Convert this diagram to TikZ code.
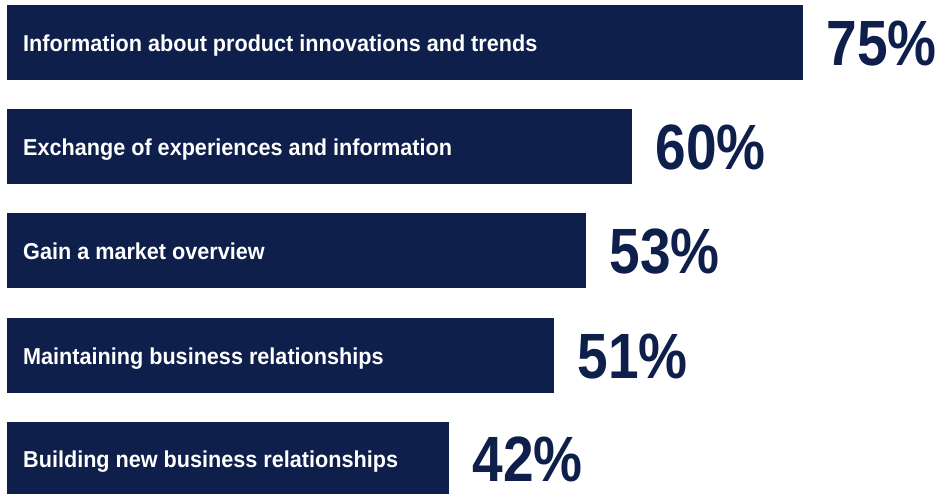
\documentclass[tikz,border=0pt]{standalone}
\usepackage{fontspec}
\setmainfont{Liberation Sans}[FakeStretch=0.94]
\newfontfamily\pctfont{Liberation Sans}[FakeStretch=0.86]
\definecolor{navy}{HTML}{0F1F4B}
\begin{document}
\begin{tikzpicture}[x=1pt,y=-1pt,
  bar/.style={fill=navy, draw=none, inner sep=0pt, anchor=north west},
  lbl/.style={text=white, font=\fontsize{23}{26}\selectfont\bfseries, inner sep=0pt, anchor=base west},
  pct/.style={text=navy, font=\pctfont\fontsize{64}{70}\selectfont\bfseries, inner sep=0pt, anchor=base west}]
\useasboundingbox (0,0) rectangle (939,494);
\foreach \i/\top/\w/\h/\txt/\p in {
  1/5/796/75/{Information about product innovations and trends}/75,
  2/109/625/75/{Exchange of experiences and information}/60,
  3/213/579/75/{Gain a market overview}/53,
  4/318/547/75/{Maintaining business relationships}/51,
  5/422/442/72/{Building new business relationships}/42}{
  \node[bar, minimum width=\w pt, minimum height=\h pt] (b\i) at (7,\top) {};
  \node[lbl] (t\i) at ([xshift=16pt,yshift=-9pt]b\i.west) {\txt};
  \node[pct] (p\i) at ([xshift=23pt,yshift=-23pt]b\i.east) {\p\%};
}
\end{tikzpicture}
\end{document}
